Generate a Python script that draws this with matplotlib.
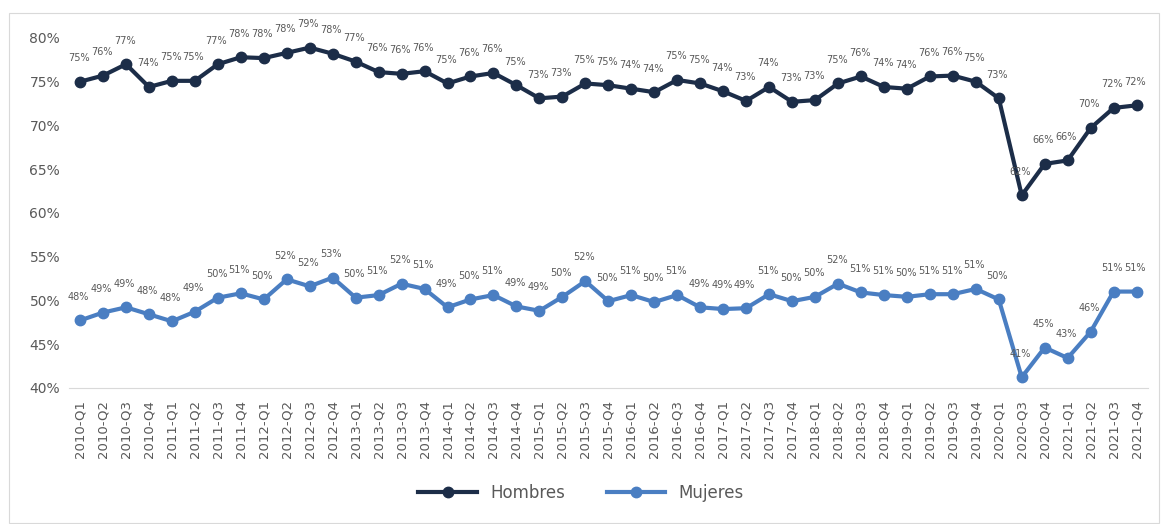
import numpy as np
import matplotlib.pyplot as plt
from matplotlib.patches import Rectangle

quarters = ["2010-Q1", "2010-Q2", "2010-Q3", "2010-Q4",
            "2011-Q1", "2011-Q2", "2011-Q3", "2011-Q4",
            "2012-Q1", "2012-Q2", "2012-Q3", "2012-Q4",
            "2013-Q1", "2013-Q2", "2013-Q3", "2013-Q4",
            "2014-Q1", "2014-Q2", "2014-Q3", "2014-Q4",
            "2015-Q1", "2015-Q2", "2015-Q3", "2015-Q4",
            "2016-Q1", "2016-Q2", "2016-Q3", "2016-Q4",
            "2017-Q1", "2017-Q2", "2017-Q3", "2017-Q4",
            "2018-Q1", "2018-Q2", "2018-Q3", "2018-Q4",
            "2019-Q1", "2019-Q2", "2019-Q3", "2019-Q4",
            "2020-Q1", "2020-Q3", "2020-Q4",
            "2021-Q1", "2021-Q2", "2021-Q3", "2021-Q4"]

hombres = [75.0, 75.7, 77.0, 74.4, 75.1, 75.1, 77.0, 77.8, 77.7, 78.3, 78.9, 78.2,
           77.3, 76.1, 75.9, 76.2, 74.8, 75.6, 76.0, 74.6, 73.1, 73.3, 74.8, 74.6,
           74.2, 73.8, 75.2, 74.8, 73.9, 72.8, 74.4, 72.7, 72.9, 74.8, 75.6, 74.4,
           74.2, 75.6, 75.7, 75.0, 73.1, 62.0, 65.6, 66.0, 69.7, 72.0, 72.3]

mujeres = [47.7, 48.6, 49.2, 48.4, 47.6, 48.7, 50.3, 50.8, 50.1, 52.4, 51.6, 52.6,
           50.3, 50.6, 51.9, 51.3, 49.2, 50.1, 50.6, 49.3, 48.8, 50.4, 52.2, 49.9,
           50.6, 49.8, 50.6, 49.2, 49.0, 49.1, 50.7, 49.9, 50.4, 51.9, 50.9, 50.6,
           50.4, 50.7, 50.7, 51.3, 50.1, 41.2, 44.6, 43.4, 46.4, 51.0, 51.0]

yticks = [40, 45, 50, 55, 60, 65, 70, 75, 80]

c_h = "#1c2d48"
c_m = "#4a7ec2"
txt = "#595959"

fig = plt.figure(figsize=(11.62, 5.24), dpi=100)
ax = fig.add_axes([0.059, 0.26, 0.929, 0.6675])

x = np.arange(len(quarters))
ax.plot(x, hombres, color=c_h, lw=3, marker="o", ms=7.5, label="Hombres")
ax.plot(x, mujeres, color=c_m, lw=3, marker="o", ms=7.5, label="Mujeres")

for xi, v in zip(x, hombres):
    ax.annotate(f"{v:.0f}%", (xi, v), xytext=(-1, 17), textcoords="offset points",
                ha="center", va="center", fontsize=7, color=txt)
for xi, v in zip(x, mujeres):
    ax.annotate(f"{v:.0f}%", (xi, v), xytext=(-1, 17), textcoords="offset points",
                ha="center", va="center", fontsize=7, color=txt)

ax.set_xlim(-0.5, len(quarters) - 0.5)
ax.set_ylim(40, 80)
ax.set_yticks(yticks)
ax.set_yticklabels([f"{t}%" for t in yticks], fontsize=10, color=txt)
ax.set_xticks(x)
ax.set_xticklabels(quarters, rotation=90, fontsize=9.5, color=txt)
ax.tick_params(axis="y", length=0, pad=6)
ax.tick_params(axis="x", length=0, pad=9)
for s in ["top", "right", "left"]:
    ax.spines[s].set_visible(False)
ax.spines["bottom"].set_color("#d9d9d9")

fig.legend(loc="center", bbox_to_anchor=(0.5, 0.06), ncol=2, frameon=False,
           fontsize=12, handlelength=3.5, columnspacing=2.5, labelcolor=txt)

fig.patches.append(Rectangle((9 / 1162, 0.002), 1150 / 1162, 510 / 524,
                             transform=fig.transFigure, fill=False,
                             edgecolor="#d9d9d9", lw=0.8))

fig.savefig("out.png", dpi=100)
